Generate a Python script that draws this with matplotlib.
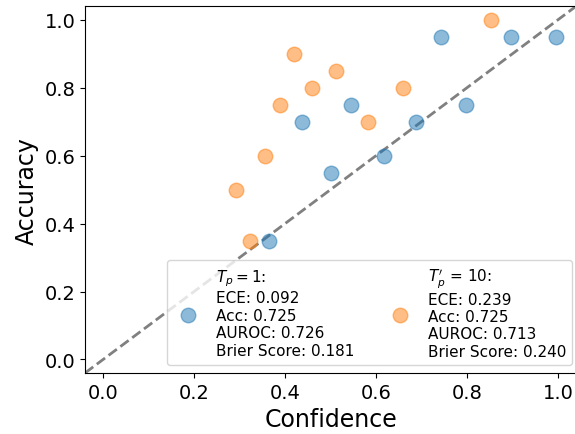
import matplotlib
matplotlib.use('Agg')
import matplotlib.pyplot as plt

# Datos
conf_tp1 = [0.365, 0.437, 0.501, 0.545, 0.618, 0.687, 0.742, 0.799, 0.896, 0.995]
acc_tp1 = [0.35, 0.70, 0.55, 0.75, 0.60, 0.70, 0.95, 0.75, 0.95, 0.95]

conf_tp10 = [0.292, 0.322, 0.355, 0.390, 0.420, 0.459, 0.513, 0.582, 0.660, 0.852]
acc_tp10 = [0.50, 0.35, 0.60, 0.75, 0.90, 0.80, 0.85, 0.70, 0.80, 1.00]

label_tp1 = "$T_p = 1$:\nECE: 0.092\nAcc: 0.725\nAUROC: 0.726\nBrier Score: 0.181"
label_tp10 = "$T_p^{\\prime}$ = 10:\nECE: 0.239\nAcc: 0.725\nAUROC: 0.713\nBrier Score: 0.240"

DPI = 100
FIG_SIZE = (5.75, 4.35)

fig = plt.figure(figsize=FIG_SIZE, dpi=DPI)
# posicion de los ejes en pixeles (izq 85, der 576, abajo 374, arriba 7)
ax = fig.add_axes([85 / 575, (435 - 374) / 435, (576 - 85) / 575, (374 - 7.3) / 435])

ax.scatter(conf_tp1, acc_tp1, s=110, alpha=0.5, color='C0', label=label_tp1)
ax.scatter(conf_tp10, acc_tp10, s=110, alpha=0.5, color='C1', label=label_tp10)

lims = (-0.04, 1.04)
ax.plot(lims, lims, '--', color='gray', linewidth=2, zorder=0)
ax.set_xlim(lims)
ax.set_ylim(lims)

ax.set_xticks([0.0, 0.2, 0.4, 0.6, 0.8, 1.0])
ax.set_yticks([0.0, 0.2, 0.4, 0.6, 0.8, 1.0])
ax.tick_params(labelsize=14)
ax.set_xlabel('Confidence', fontsize=17)
ax.set_ylabel('Accuracy', fontsize=17)

ax.legend(loc='lower right', bbox_to_anchor=(0.992, 0.022), borderaxespad=0,
          ncol=2, fontsize=11, labelspacing=0.3)

plt.savefig('out.png', dpi=DPI)
plt.close()
